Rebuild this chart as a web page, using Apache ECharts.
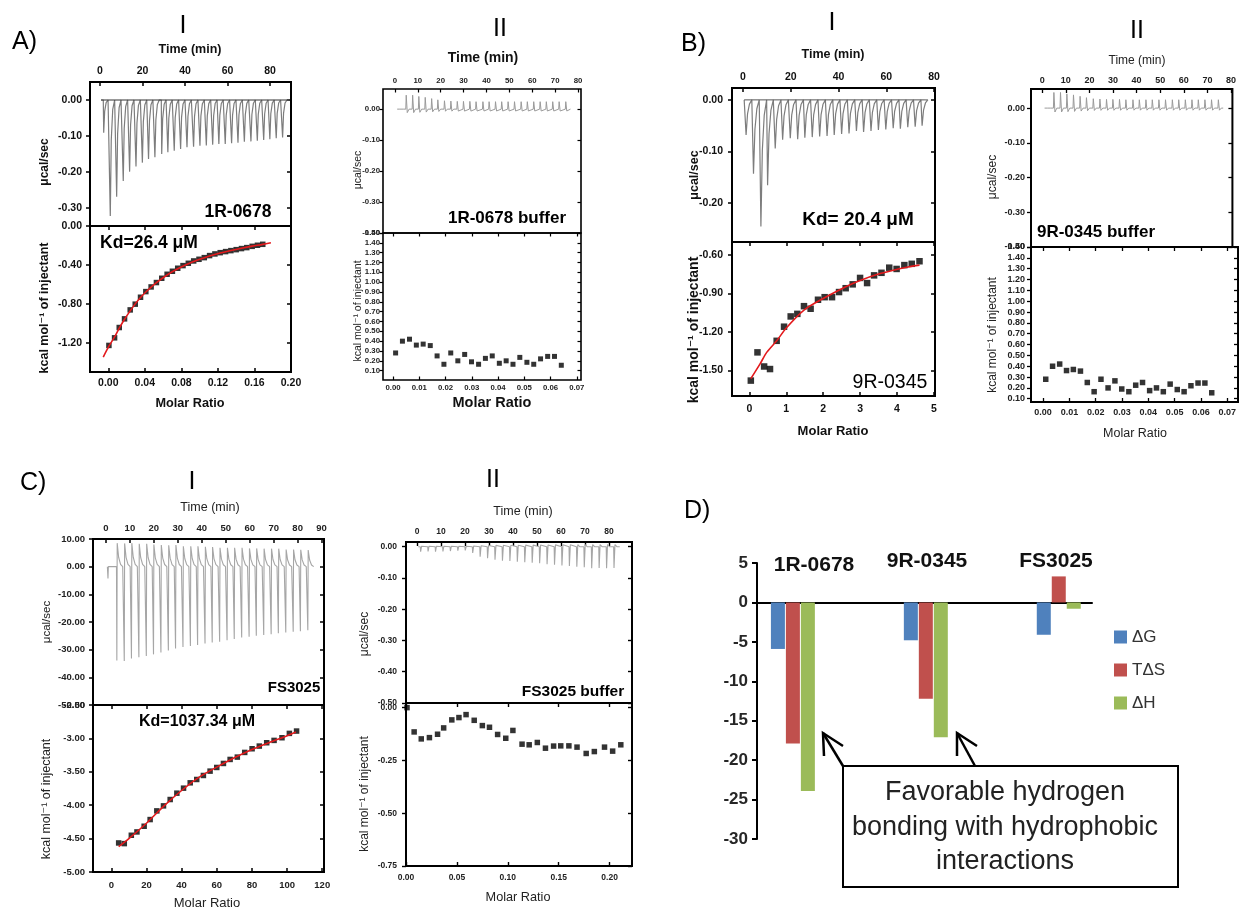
<!DOCTYPE html>
<html>
<head>
<meta charset="utf-8">
<script src="https://cdn.jsdelivr.net/npm/echarts@6/dist/echarts.min.js"></script>
<style>
  html, body { margin: 0; padding: 0; background: #ffffff; }
  #chart { width: 1239px; height: 910px; }
</style>
</head>
<body>
<div id="chart"></div>
<script>
// ===================== DATA =====================

// ---- A-I : 1R-0678 titration ----
const a1InjTime = [1.6, 4.7, 7.7, 10.8, 13.8, 16.8, 19.8, 22.7, 25.7, 28.9, 31.8, 34.8, 37.8, 40.8, 43.9, 46.9, 49.9, 52.9, 55.8, 58.8, 61.8, 64.8, 67.8, 70.9, 73.9, 76.9, 79.8, 82.8, 85.8];
const a1InjPeak = [-0.091, -0.322, -0.269, -0.225, -0.199, -0.185, -0.174, -0.164, -0.159, -0.150, -0.145, -0.141, -0.136, -0.131, -0.130, -0.127, -0.126, -0.124, -0.122, -0.122, -0.120, -0.119, -0.116, -0.115, -0.113, -0.111, -0.109, -0.106, -0.104];
const a1Ratio = [0.0007, 0.0069, 0.012, 0.0178, 0.024, 0.0295, 0.0353, 0.0411, 0.0469, 0.0527, 0.0585, 0.0644, 0.0702, 0.076, 0.0818, 0.0876, 0.0935, 0.0993, 0.1051, 0.1109, 0.1167, 0.1225, 0.1284, 0.1342, 0.14, 0.1458, 0.1516, 0.1575, 0.1633, 0.1691];
const a1Heat = [-1.227, -1.149, -1.043, -0.954, -0.862, -0.803, -0.732, -0.674, -0.626, -0.581, -0.537, -0.496, -0.465, -0.434, -0.407, -0.383, -0.359, -0.342, -0.325, -0.304, -0.287, -0.274, -0.263, -0.253, -0.243, -0.232, -0.222, -0.209, -0.198, -0.188];
const a1FitRatio = [-0.0055, 0.0007, 0.0069, 0.012, 0.0178, 0.024, 0.0295, 0.0353, 0.0411, 0.0527, 0.0644, 0.076, 0.0876, 0.0993, 0.1109, 0.1225, 0.1342, 0.1458, 0.1575, 0.1691, 0.178];
const a1FitHeat = [-1.347, -1.235, -1.14, -1.05, -0.958, -0.872, -0.80, -0.735, -0.678, -0.583, -0.503, -0.44, -0.388, -0.345, -0.308, -0.277, -0.251, -0.228, -0.207, -0.189, -0.172];
const a1TimeTicks = [0, 20, 40, 60, 80];
const a1PowerTicks = [0, -0.1, -0.2, -0.3];
const a1HeatTicks = [0, -0.4, -0.8, -1.2];
const a1RatioTicks = [0, 0.04, 0.08, 0.12, 0.16, 0.2];

// ---- buffer control (shown for 1R-0678 and 9R-0345) ----
const bufInjTime = [2.2, 4.8, 7.6, 10.3, 13.1, 15.9, 18.6, 21.5, 24.3, 27.1, 29.8, 32.6, 35.3, 38.3, 41.0, 43.8, 46.5, 49.3, 52.1, 55.0, 57.7, 60.5, 63.3, 66.0, 68.8, 71.6, 74.5];
const bufInjPeak = [0.004, 0.045, 0.045, 0.041, 0.038, 0.034, 0.030, 0.027, 0.026, 0.025, 0.025, 0.025, 0.024, 0.024, 0.024, 0.024, 0.024, 0.024, 0.024, 0.024, 0.024, 0.024, 0.024, 0.024, 0.024, 0.024, 0.024];
const bufRatio = [0.0010, 0.0036, 0.0063, 0.0089, 0.0115, 0.0142, 0.0168, 0.0194, 0.0220, 0.0247, 0.0273, 0.0299, 0.0326, 0.0352, 0.0378, 0.0405, 0.0431, 0.0457, 0.0483, 0.0510, 0.0536, 0.0562, 0.0589, 0.0615, 0.0641];
const bufHeat = [0.28, 0.40, 0.42, 0.36, 0.37, 0.355, 0.25, 0.165, 0.28, 0.20, 0.265, 0.19, 0.165, 0.225, 0.25, 0.175, 0.20, 0.165, 0.235, 0.185, 0.165, 0.22, 0.245, 0.245, 0.155];
const bufTimeTicks = [0, 10, 20, 30, 40, 50, 60, 70, 80];
const bufPowerTicks = [0, -0.1, -0.2, -0.3, -0.4];
const bufHeatTicks = [0.1, 0.2, 0.3, 0.4, 0.5, 0.6, 0.7, 0.8, 0.9, 1.0, 1.1, 1.2, 1.3, 1.4, 1.5];
const bufRatioTicks = [0, 0.01, 0.02, 0.03, 0.04, 0.05, 0.06, 0.07];

// ---- B-I : 9R-0345 titration ----
const b1InjTime = [1.1, 4.2, 7.3, 10.1, 13.3, 16.4, 19.6, 22.7, 25.7, 28.8, 31.9, 35.0, 38.0, 41.1, 44.2, 47.3, 50.3, 53.4, 56.5, 59.6, 62.7, 65.7, 68.8, 71.9, 74.8];
const b1InjPeak = [-0.068, -0.143, -0.245, -0.165, -0.094, -0.077, -0.074, -0.076, -0.073, -0.072, -0.071, -0.070, -0.068, -0.066, -0.065, -0.060, -0.062, -0.060, -0.058, -0.057, -0.055, -0.056, -0.053, -0.052, -0.050];
const b1Ratio = [0.04, 0.22, 0.40, 0.56, 0.74, 0.94, 1.12, 1.30, 1.48, 1.66, 1.86, 2.04, 2.24, 2.43, 2.61, 2.80, 3.00, 3.19, 3.38, 3.58, 3.79, 3.99, 4.20, 4.40, 4.61];
const b1Heat = [-1.58, -1.36, -1.47, -1.49, -1.27, -1.16, -1.08, -1.06, -1.00, -1.02, -0.95, -0.93, -0.93, -0.89, -0.86, -0.83, -0.78, -0.82, -0.76, -0.74, -0.70, -0.71, -0.68, -0.67, -0.65];
const b1FitRatio = [0.04, 0.29, 0.47, 0.74, 1.0, 1.48, 2.0, 2.6, 3.0, 3.5, 3.9, 4.3, 4.61];
const b1FitHeat = [-1.565, -1.45, -1.36, -1.27, -1.17, -1.03, -0.94, -0.85, -0.80, -0.75, -0.72, -0.695, -0.68];
const b1TimeTicks = [0, 20, 40, 60, 80];
const b1PowerTicks = [0, -0.1, -0.2];
const b1HeatTicks = [-0.6, -0.9, -1.2, -1.5];
const b1RatioTicks = [0, 1, 2, 3, 4, 5];

// ---- C-I : FS3025 titration ----
const c1InjTime = [1.0, 4.7, 7.8, 10.8, 13.9, 17.0, 20.0, 23.1, 26.2, 29.2, 32.3, 35.4, 38.4, 41.5, 44.5, 47.6, 50.7, 53.7, 56.8, 59.9, 62.9, 66.0, 69.1, 72.1, 75.2, 78.3, 81.3, 84.4];
const c1Exo = [-4.3, -33.9, -34.1, -33.2, -32.7, -32.3, -31.7, -31.0, -30.3, -29.6, -29.0, -28.7, -28.3, -27.8, -27.4, -27.1, -26.6, -26.1, -25.6, -25.3, -25.0, -24.7, -24.4, -24.1, -23.8, -23.5, -23.3, -23.0];
const c1Endo = [0, 8.5, 8.4, 8.5, 8.3, 8.3, 8.0, 7.8, 7.7, 7.8, 7.4, 7.4, 7.4, 7.2, 7.1, 6.8, 6.8, 6.8, 6.8, 6.6, 6.6, 6.5, 6.5, 6.5, 6.2, 6.2, 6.1, 6.0];
const c1Ratio = [4.2, 7.4, 11.4, 14.6, 18.7, 22.1, 25.9, 29.7, 33.5, 37.3, 41.1, 44.9, 48.6, 52.4, 56.2, 60.0, 63.8, 67.6, 71.7, 75.9, 80.1, 84.2, 88.4, 92.6, 97.1, 101.3, 105.4];
const c1Heat = [-4.565, -4.575, -4.45, -4.40, -4.315, -4.215, -4.085, -4.01, -3.915, -3.82, -3.745, -3.665, -3.615, -3.555, -3.49, -3.435, -3.375, -3.315, -3.28, -3.21, -3.155, -3.115, -3.065, -3.03, -2.99, -2.925, -2.89];
const c1FitRatio = [4.2, 10, 20, 30, 40, 50, 60, 70, 80, 90, 100, 105];
const c1FitHeat = [-4.62, -4.50, -4.27, -4.01, -3.78, -3.58, -3.43, -3.29, -3.165, -3.06, -2.96, -2.905];
const c1TimeTicks = [0, 10, 20, 30, 40, 50, 60, 70, 80, 90];
const c1PowerTicks = [10, 0, -10, -20, -30, -40, -50];
const c1HeatTicks = [-2.5, -3.0, -3.5, -4.0, -4.5, -5.0];
const c1RatioTicks = [0, 20, 40, 60, 80, 100, 120];

// ---- C-II : FS3025 buffer ----
const c2InjTime = [1.4, 4.5, 7.6, 10.7, 13.8, 16.9, 20.0, 23.1, 26.2, 29.3, 32.4, 35.5, 38.6, 41.7, 44.8, 47.9, 51.0, 54.1, 57.2, 60.3, 63.4, 66.5, 69.6, 72.7, 75.8, 78.9, 82.0];
const c2InjPeak = [-0.016, -0.015, -0.016, -0.015, -0.014, -0.013, -0.012, -0.020, -0.032, -0.037, -0.042, -0.045, -0.046, -0.048, -0.050, -0.051, -0.053, -0.056, -0.058, -0.060, -0.062, -0.064, -0.066, -0.069, -0.068, -0.069, -0.068];
const c2Ratio = [0.001, 0.008, 0.015, 0.023, 0.031, 0.037, 0.045, 0.052, 0.059, 0.067, 0.075, 0.082, 0.090, 0.098, 0.105, 0.114, 0.121, 0.129, 0.137, 0.145, 0.152, 0.160, 0.168, 0.177, 0.185, 0.195, 0.203, 0.211];
const c2Heat = [0.0, -0.115, -0.148, -0.142, -0.126, -0.096, -0.058, -0.047, -0.033, -0.060, -0.085, -0.093, -0.127, -0.145, -0.108, -0.173, -0.176, -0.165, -0.192, -0.182, -0.181, -0.181, -0.187, -0.217, -0.208, -0.187, -0.206, -0.176];
const c2TimeTicks = [0, 10, 20, 30, 40, 50, 60, 70, 80, 90];
const c2PowerTicks = [0, -0.1, -0.2, -0.3, -0.4, -0.5];
const c2HeatTicks = [0, -0.25, -0.5, -0.75];
const c2RatioTicks = [0, 0.05, 0.1, 0.15, 0.2];

// ---- D : thermodynamic signature (kcal/mol) ----
const ligands = ['1R-0678', '9R-0345', 'FS3025'];
const dG = [-5.9, -4.8, -4.1];
const TdS = [-17.9, -12.2, 3.3];
const dH = [-23.9, -17.1, -0.8];
const thermoTicks = { min: -30, max: 5, step: 5 };

// ===================== BUILDING =====================
const FONT = '"Liberation Sans", Arial, "DejaVu Sans", sans-serif';
const grids = [], xAxes = [], yAxes = [], series = [], graphics = [];

function fmt(v, d) { return (Math.abs(v) < 1e-9 ? 0 : v).toFixed(d); }

function valueAxis(gridIndex, position, range, ticks, dec, st, o) {
  o = o || {};
  return {
    type: 'value', gridIndex: gridIndex, position: position,
    min: range[0], max: range[1],
    axisLine: { show: false, onZero: false },
    splitLine: { show: false },
    axisTick: { show: true, inside: o.inside !== false, length: st.tickLen,
      lineStyle: { color: '#000', width: st.tickW }, customValues: ticks },
    axisLabel: { show: !!o.labels, customValues: ticks, formatter: function (v) { return fmt(v, dec); },
      fontFamily: FONT, fontSize: st.fs, fontWeight: st.fw, color: st.color,
      margin: o.margin != null ? o.margin : 5 }
  };
}

// injection peak outline: [dt, weight of first peak array, weight of second peak array]
function spikeTrace(times, pa, pb, shape, t0, t1) {
  const pts = [[t0, 0]];
  times.forEach(function (t, i) {
    shape.forEach(function (s) {
      pts.push([t + s[0], s[1] * pa[i] + s[2] * (pb ? pb[i] : 0)]);
    });
  });
  pts.push([t1, 0]);
  return pts;
}
function zip(xs, ys) { return xs.map(function (x, i) { return [x, ys[i]]; }); }

function buildITC(P) {
  const gTop = grids.length, gBot = gTop + 1;
  grids.push({ left: P.x, top: P.yTop, width: P.w, height: P.hTop, show: true,
    borderColor: '#000', borderWidth: P.frame, backgroundColor: 'rgba(0,0,0,0)' });
  grids.push({ left: P.x, top: P.yTop + P.hTop, width: P.w, height: P.hBot, show: true,
    borderColor: '#000', borderWidth: P.frame, backgroundColor: 'rgba(0,0,0,0)' });
  const st = P.style;

  const xT = xAxes.length;
  xAxes.push(valueAxis(gTop, 'top', P.time.range, P.time.ticks, 0, st, { labels: true, margin: P.time.margin }));
  const xB = xAxes.length;
  xAxes.push(valueAxis(gBot, 'bottom', P.ratio.range, P.ratio.ticks, P.ratio.dec, st, { labels: true, margin: P.ratio.margin }));
  xAxes.push(valueAxis(gBot, 'top', P.ratio.range, P.ratio.ticks, P.ratio.dec, st, {}));

  const yT = yAxes.length;
  yAxes.push(valueAxis(gTop, 'left', P.power.range, P.power.ticks, P.power.dec, st, { labels: true, inside: false, margin: P.yMargin }));
  yAxes.push(valueAxis(gTop, 'right', P.power.range, P.power.ticks, P.power.dec, st, {}));
  const yB = yAxes.length;
  yAxes.push(valueAxis(gBot, 'left', P.heat.range, P.heat.ticks, P.heat.dec, st, { labels: true, inside: false, margin: P.yMargin }));
  yAxes.push(valueAxis(gBot, 'right', P.heat.range, P.heat.ticks, P.heat.dec, st, {}));

  const T = P.trace;
  series.push({ type: 'line', xAxisIndex: xT, yAxisIndex: yT, symbol: 'none', silent: true, z: 3,
    data: spikeTrace(T.times, T.a, T.b, T.shape, T.t0, T.t1),
    lineStyle: { color: T.color, width: T.width } });
  if (P.baseline) {
    series.push({ type: 'line', xAxisIndex: xT, yAxisIndex: yT, symbol: 'none', silent: true, z: 4,
      data: [[T.t0, 0], [T.t1, 0]], lineStyle: { color: P.baseline, width: 1 } });
  }
  series.push({ type: 'scatter', xAxisIndex: xB, yAxisIndex: yB, symbol: 'rect', symbolSize: P.points.size,
    clip: false, silent: true, z: 5, itemStyle: { color: '#000' }, data: zip(P.points.x, P.points.y) });
  if (P.fit) {
    series.push({ type: 'line', xAxisIndex: xB, yAxisIndex: yB, symbol: 'none', smooth: 0.3, silent: true, z: 6,
      data: zip(P.fit.x, P.fit.y), lineStyle: { color: '#e3191c', width: 1.6 } });
  }
}

function txt(x, y, text, size, o) {
  o = o || {};
  const align = o.align || 'center';
  return { type: 'text', x: x, y: y, rotation: o.rot || 0, z: 100,
    style: { text: text, fill: o.color || '#111',
      font: (o.weight || 'normal') + ' ' + size + 'px ' + (o.family || FONT),
      textAlign: align, textVerticalAlign: 'middle', align: align, verticalAlign: 'middle' } };
}

// outline shapes of the injection peaks
const SHAPE_A1 = [[-0.05, 0, 0], [0.15, 1, 0], [0.6, 0.35, 0], [1.3, 0.08, 0], [2.2, 0, 0]];
const SHAPE_B1 = [[-0.05, 0, 0], [0.2, 1, 0], [0.8, 0.4, 0], [1.6, 0.12, 0], [2.6, 0, 0]];
const SHAPE_BUF = [[-0.05, 0, 0], [0.15, 1, 0], [0.6, -0.25, 0], [1.4, 0, 0]];
const SHAPE_C1 = [[-0.3, 0, 0], [-0.15, 1, 0], [0.0, 0, 1], [0.6, 0, 0.4], [1.4, 0, 0.1], [2.3, 0, 0]];
const SHAPE_C2 = [[-0.05, 0, 0], [0.1, 1, 0], [0.5, -0.1, 0], [1.3, 0, 0]];

// A-I
buildITC({
  x: 90, w: 201, yTop: 82, hTop: 144, hBot: 146, frame: 2, yMargin: 8,
  style: { fs: 10.5, fw: 'bold', color: '#111', tickLen: 4, tickW: 1.5 },
  time: { range: [-4.7, 89.9], ticks: a1TimeTicks, margin: 5 },
  power: { range: [-0.35, 0.05], ticks: a1PowerTicks, dec: 2 },
  heat: { range: [-1.5, 0.0], ticks: a1HeatTicks, dec: 2 },
  ratio: { range: [-0.02, 0.2], ticks: a1RatioTicks, dec: 2, margin: 6 },
  trace: { times: a1InjTime, a: a1InjPeak, shape: SHAPE_A1, t0: 0.5, t1: 89, color: '#7d7d7d', width: 1.2 },
  baseline: '#333',
  points: { x: a1Ratio, y: a1Heat, size: 5.5 },
  fit: { x: a1FitRatio, y: a1FitHeat }
});

// A-II
buildITC({
  x: 383, w: 198, yTop: 89, hTop: 144, hBot: 147, frame: 1.6, yMargin: 3,
  style: { fs: 7.8, fw: 'bold', color: '#222', tickLen: 3.5, tickW: 1.2 },
  time: { range: [-5.2, 81.3], ticks: bufTimeTicks, margin: 4 },
  power: { range: [-0.40, 0.065], ticks: bufPowerTicks, dec: 2 },
  heat: { range: [0.005, 1.5], ticks: bufHeatTicks, dec: 2 },
  ratio: { range: [-0.0038, 0.0716], ticks: bufRatioTicks, dec: 2, margin: 4 },
  trace: { times: bufInjTime, a: bufInjPeak, shape: SHAPE_BUF, t0: 1.0, t1: 76.7, color: '#9a9a9a', width: 1 },
  points: { x: bufRatio, y: bufHeat, size: 5 }
});

// B-I
buildITC({
  x: 732, w: 203, yTop: 88, hTop: 154, hBot: 154, frame: 2, yMargin: 9,
  style: { fs: 10.5, fw: 'bold', color: '#111', tickLen: 4, tickW: 1.5 },
  time: { range: [-4.6, 80.4], ticks: b1TimeTicks, margin: 5 },
  power: { range: [-0.275, 0.023], ticks: b1PowerTicks, dec: 2 },
  heat: { range: [-1.70, -0.50], ticks: b1HeatTicks, dec: 2 },
  ratio: { range: [-0.47, 5.03], ticks: b1RatioTicks, dec: 0, margin: 8 },
  trace: { times: b1InjTime, a: b1InjPeak, shape: SHAPE_B1, t0: 0.5, t1: 76.2, color: '#7d7d7d', width: 1.2 },
  baseline: '#555',
  points: { x: b1Ratio, y: b1Heat, size: 6.5 },
  fit: { x: b1FitRatio, y: b1FitHeat }
});

// B-II (right border falls just past the page edge)
buildITC({
  x: 1031, w: 210, yTop: 89, hTop: 158, hBot: 155, frame: 2, yMargin: 6,
  style: { fs: 9, fw: 'bold', color: '#222', tickLen: 4, tickW: 1.3 },
  time: { range: [-4.75, 80.6], ticks: bufTimeTicks, margin: 4 },
  power: { range: [-0.40, 0.055], ticks: bufPowerTicks, dec: 2 },
  heat: { range: [0.07, 1.50], ticks: bufHeatTicks, dec: 2 },
  ratio: { range: [-0.0046, 0.0741], ticks: bufRatioTicks, dec: 2, margin: 6 },
  trace: { times: bufInjTime, a: bufInjPeak, shape: SHAPE_BUF, t0: 1.0, t1: 76.7, color: '#9a9a9a', width: 1 },
  points: { x: bufRatio, y: bufHeat, size: 5.5 }
});

// C-I
buildITC({
  x: 93, w: 231, yTop: 539, hTop: 166, hBot: 167, frame: 2, yMargin: 8,
  style: { fs: 9.5, fw: 'bold', color: '#222', tickLen: 4, tickW: 1.5 },
  time: { range: [-5.4, 91], ticks: c1TimeTicks, margin: 6 },
  power: { range: [-50, 10], ticks: c1PowerTicks, dec: 2 },
  heat: { range: [-5.0, -2.5], ticks: c1HeatTicks, dec: 2 },
  ratio: { range: [-10.4, 121], ticks: c1RatioTicks, dec: 0, margin: 8 },
  trace: { times: c1InjTime, a: c1Exo, b: c1Endo, shape: SHAPE_C1, t0: 0.6, t1: 86.5, color: '#a6a6a6', width: 1.1 },
  points: { x: c1Ratio, y: c1Heat, size: 5.5 },
  fit: { x: c1FitRatio, y: c1FitHeat }
});

// C-II
buildITC({
  x: 406, w: 226, yTop: 542, hTop: 161, hBot: 163, frame: 2, yMargin: 9,
  style: { fs: 8.5, fw: 'bold', color: '#222', tickLen: 4, tickW: 1.4 },
  time: { range: [-4.6, 89.6], ticks: c2TimeTicks, margin: 6 },
  power: { range: [-0.5, 0.015], ticks: c2PowerTicks, dec: 2 },
  heat: { range: [-0.75, 0.022], ticks: c2HeatTicks, dec: 2 },
  ratio: { range: [0, 0.222], ticks: c2RatioTicks, dec: 2, margin: 7 },
  trace: { times: c2InjTime, a: c2InjPeak, shape: SHAPE_C2, t0: 0.5, t1: 84.5, color: '#a6a6a6', width: 1.1 },
  points: { x: c2Ratio, y: c2Heat, size: 5.5 }
});

// D : grouped bars on a value base axis (groups centred on 0, 1, 2)
const gD = grids.length;
grids.push({ left: 757, top: 563, width: 335, height: 276 });
const xD = xAxes.length;
xAxes.push({ type: 'value', gridIndex: gD, min: -0.27, max: 2.25,
  axisLine: { show: true, onZero: true, lineStyle: { color: '#000', width: 2 } },
  axisTick: { show: false }, axisLabel: { show: false }, splitLine: { show: false } });
const yD = yAxes.length;
yAxes.push({ type: 'value', gridIndex: gD, min: thermoTicks.min, max: thermoTicks.max, interval: thermoTicks.step,
  axisLine: { show: true, onZero: false, lineStyle: { color: '#000', width: 2 } },
  axisTick: { show: true, length: 5, lineStyle: { color: '#000', width: 2 } },
  axisLabel: { fontFamily: FONT, fontSize: 17, fontWeight: 'bold', color: '#262626', margin: 9 },
  splitLine: { show: false } });

const barDefs = [['ΔG', dG, '#4f81bd'], ['TΔS', TdS, '#c0504d'], ['ΔH', dH, '#9bbb59']];
barDefs.forEach(function (b) {
  series.push({ type: 'bar', name: b[0], xAxisIndex: xD, yAxisIndex: yD, barWidth: 14, barGap: '7%',
    silent: true, itemStyle: { color: b[2] },
    data: b[1].map(function (v, i) { return [i, v]; }) });
});

// ---- texts ----
// panel letters and column numerals
graphics.push(txt(12, 42, 'A)', 25, { align: 'left', color: '#000' }));
graphics.push(txt(681, 44, 'B)', 25, { align: 'left', color: '#000' }));
graphics.push(txt(20, 483, 'C)', 25, { align: 'left', color: '#000' }));
graphics.push(txt(684, 511, 'D)', 25, { align: 'left', color: '#000' }));
graphics.push(txt(183, 26, 'I', 25, { color: '#000' }));
graphics.push(txt(500, 29, 'II', 25, { color: '#000' }));
graphics.push(txt(832, 23, 'I', 25, { color: '#000' }));
graphics.push(txt(1137, 31, 'II', 25, { color: '#000' }));
graphics.push(txt(192, 482, 'I', 25, { color: '#000' }));
graphics.push(txt(493, 480, 'II', 25, { color: '#000' }));

const R90 = Math.PI / 2;
// A-I
graphics.push(txt(190, 50, 'Time (min)', 12.5, { weight: 'bold' }));
graphics.push(txt(190, 403, 'Molar Ratio', 12.7, { weight: 'bold' }));
graphics.push(txt(45, 162, 'μcal/sec', 12, { weight: 'bold', rot: R90 }));
graphics.push(txt(45, 308, 'kcal mol⁻¹ of injectant', 12.5, { weight: 'bold', rot: R90 }));
graphics.push(txt(238, 212, '1R-0678', 17.5, { weight: 'bold', color: '#000' }));
graphics.push(txt(149, 243, 'Kd=26.4 μM', 17.5, { weight: 'bold', color: '#000' }));
// A-II
graphics.push(txt(483, 58, 'Time (min)', 14, { weight: 'bold' }));
graphics.push(txt(492, 403, 'Molar Ratio', 14.5, { weight: 'bold' }));
graphics.push(txt(358, 170, 'μcal/sec', 10.5, { rot: R90, color: '#222' }));
graphics.push(txt(358, 311, 'kcal mol⁻¹ of injectant', 10.5, { rot: R90, color: '#222' }));
graphics.push(txt(507, 218, '1R-0678 buffer', 17, { weight: 'bold', color: '#000' }));
// B-I
graphics.push(txt(833, 55, 'Time (min)', 12.5, { weight: 'bold' }));
graphics.push(txt(833, 431, 'Molar Ratio', 13, { weight: 'bold' }));
graphics.push(txt(695, 175, 'μcal/sec', 12.5, { weight: 'bold', rot: R90 }));
graphics.push(txt(694, 330, 'kcal mol⁻¹ of injectant', 14, { weight: 'bold', rot: R90 }));
graphics.push(txt(858, 220, 'Kd= 20.4 μM', 19, { weight: 'bold', color: '#000' }));
graphics.push(txt(890, 383, '9R-0345', 19.5, { color: '#000' }));
// B-II
graphics.push(txt(1137, 61, 'Time (min)', 12, { color: '#222' }));
graphics.push(txt(1135, 434, 'Molar Ratio', 12.5, { color: '#222' }));
graphics.push(txt(993, 177, 'μcal/sec', 12, { rot: R90, color: '#222' }));
graphics.push(txt(993, 335, 'kcal mol⁻¹ of injectant', 12, { rot: R90, color: '#222' }));
graphics.push(txt(1096, 232, '9R-0345 buffer', 17, { weight: 'bold', color: '#000' }));
// C-I
graphics.push(txt(210, 508, 'Time (min)', 12.5, { color: '#222' }));
graphics.push(txt(207, 903, 'Molar Ratio', 13, { color: '#222' }));
graphics.push(txt(47, 622, 'μcal/sec', 11.5, { rot: R90, color: '#222' }));
graphics.push(txt(47, 799, 'kcal mol⁻¹ of injectant', 12.5, { rot: R90, color: '#222' }));
graphics.push(txt(294, 688, 'FS3025', 15, { weight: 'bold', color: '#000' }));
graphics.push(txt(197, 722, 'Kd=1037.34 μM', 16, { weight: 'bold', color: '#000' }));
// C-II
graphics.push(txt(523, 512, 'Time (min)', 12.5, { color: '#222' }));
graphics.push(txt(518, 897, 'Molar Ratio', 12.7, { color: '#222' }));
graphics.push(txt(365, 634, 'μcal/sec', 12, { rot: R90, color: '#222' }));
graphics.push(txt(365, 794, 'kcal mol⁻¹ of injectant', 12, { rot: R90, color: '#222' }));
graphics.push(txt(573, 692, 'FS3025 buffer', 15.5, { weight: 'bold', color: '#000' }));
// D : compound names above the bar groups
graphics.push(txt(814, 565, ligands[0], 21, { weight: 'bold', color: '#111' }));
graphics.push(txt(927, 561, ligands[1], 21, { weight: 'bold', color: '#111' }));
graphics.push(txt(1056, 561, ligands[2], 21, { weight: 'bold', color: '#111' }));
// D : annotation box and arrows
graphics.push({ type: 'rect', z: 90, shape: { x: 843, y: 766, width: 335, height: 121 },
  style: { fill: '#fff', stroke: '#000', lineWidth: 2 } });
graphics.push(txt(1005, 793, 'Favorable hydrogen', 27, { color: '#222' }));
graphics.push(txt(1005, 828, 'bonding with hydrophobic', 27, { color: '#222' }));
graphics.push(txt(1005, 862, 'interactions', 27, { color: '#222' }));
[[[843, 766], [823, 733], [843, 746], [824, 756]], [[975, 766], [957, 733], [977, 746], [957, 756]]].forEach(function (a) {
  graphics.push({ type: 'polyline', z: 95, shape: { points: [a[0], a[1]] }, style: { stroke: '#000', lineWidth: 2.5, fill: null } });
  graphics.push({ type: 'polyline', z: 95, shape: { points: [a[2], a[1], a[3]] }, style: { stroke: '#000', lineWidth: 2.5, fill: null } });
});

const chart = echarts.init(document.getElementById('chart'), null, { renderer: 'canvas' });
chart.setOption({
  animation: false,
  backgroundColor: '#ffffff',
  grid: grids,
  xAxis: xAxes,
  yAxis: yAxes,
  series: series,
  legend: { data: ['ΔG', 'TΔS', 'ΔH'], orient: 'vertical', left: 1109, top: 622,
    itemWidth: 13, itemHeight: 13, itemGap: 13, icon: 'rect', selectedMode: false,
    textStyle: { fontFamily: FONT, fontSize: 17, color: '#333', lineHeight: 20 } },
  graphic: graphics
});
</script>
</body>
</html>
